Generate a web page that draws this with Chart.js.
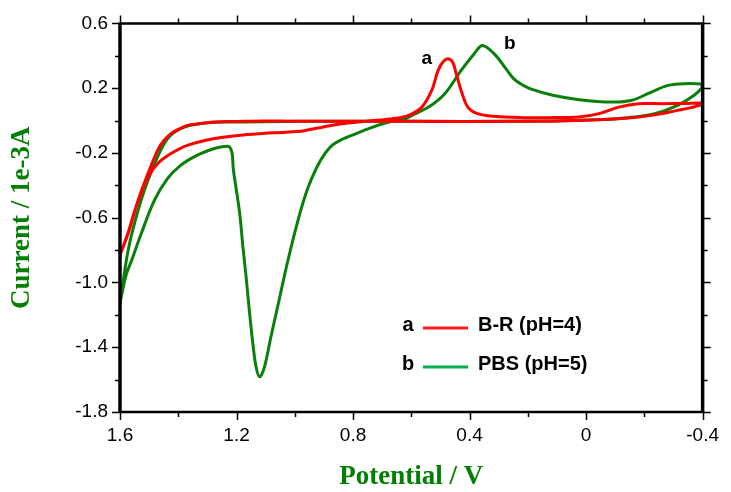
<!DOCTYPE html>
<html>
<head>
<meta charset="utf-8">
<script src="https://cdn.jsdelivr.net/npm/chart.js@4.4.1/dist/chart.umd.min.js"></script>
<style>
  html, body { margin: 0; padding: 0; background: #fff; }
</style>
</head>
<body>
<canvas id="myChart" width="731" height="492"></canvas>
<script>
// a: B-R (pH=4), closed loop, potential (V) and current (1e-3 A)
const redV = [1.600, 1.570, 1.549, 1.525, 1.504, 1.471, 1.425, 1.369, 1.279, 1.189, 1.110, 1.050, 0.990, 0.960,
    0.920, 0.880, 0.840, 0.790, 0.710, 0.654, 0.609, 0.564, 0.530, 0.508, 0.490, 0.474, 0.458, 0.446, 0.429, 0.406,
    0.373, 0.316, 0.215, 0.136, 0.024, -0.044, -0.112, -0.179, -0.258, -0.340, -0.400,
    -0.400, -0.360, -0.314, -0.224, -0.123, 0.024, 0.249, 0.600, 1.000, 1.110, 1.200, 1.279, 1.330,
    1.369, 1.400, 1.425, 1.450, 1.471, 1.504, 1.538, 1.572, 1.600];
const redI = [-0.830, -0.680, -0.554, -0.440, -0.349, -0.266, -0.204, -0.153, -0.112, -0.091, -0.080, -0.074, -0.068, -0.060,
    -0.046, -0.032, -0.020, -0.010, 0.003, 0.014, 0.032, 0.083, 0.186, 0.310, 0.365, 0.382, 0.360, 0.290, 0.186, 0.083,
    0.043, 0.026, 0.018, 0.018, 0.022, 0.043, 0.083, 0.104, 0.104, 0.106, 0.108,
    0.100, 0.080, 0.063, 0.032, 0.012, 0.001, -0.005, -0.005, -0.004, -0.003, -0.006, -0.009, -0.020,
    -0.030, -0.055, -0.081, -0.125, -0.184, -0.328, -0.493, -0.698, -0.830];

// b: PBS (pH=5)
const greenV = [1.600, 1.580, 1.560, 1.527, 1.482, 1.437, 1.392, 1.336, 1.279, 1.250, 1.230, 1.223, 1.215,
    1.211, 1.203, 1.189, 1.178, 1.166, 1.155, 1.144, 1.133, 1.121, 1.104, 1.082, 1.054, 1.026, 0.992,
    0.958, 0.924, 0.895, 0.870, 0.840, 0.800, 0.740, 0.677, 0.620, 0.598, 0.541, 0.485, 0.429, 0.384,
    0.356, 0.316, 0.271, 0.249, 0.226, 0.193, 0.114, 0.024, -0.089, -0.157, -0.224, -0.281, -0.337, -0.400,
    -0.400, -0.371, -0.314, -0.236, -0.145, -0.033, 0.136, 0.249, 0.600, 1.000, 1.223, 1.324, 1.392,
    1.437, 1.471, 1.504, 1.538, 1.572, 1.600];
const greenI = [-1.130, -0.960, -0.863, -0.698, -0.493, -0.359, -0.277, -0.215, -0.174, -0.162, -0.159, -0.165, -0.204,
    -0.300, -0.400, -0.575, -0.781, -0.986, -1.192, -1.377, -1.521, -1.583, -1.521, -1.336, -1.110, -0.883, -0.636,
    -0.431, -0.287, -0.200, -0.150, -0.118, -0.088, -0.045, -0.009, 0.012, 0.032, 0.083, 0.166, 0.310, 0.413,
    0.464, 0.413, 0.310, 0.259, 0.228, 0.197, 0.156, 0.129, 0.114, 0.125, 0.176, 0.217, 0.228, 0.223,
    0.207, 0.156, 0.094, 0.043, 0.018, 0.005, -0.003, -0.005, -0.005, -0.005, -0.009, -0.019, -0.050,
    -0.112, -0.225, -0.369, -0.554, -0.801, -1.130];

const xMajor = [1.6, 1.2, 0.8, 0.4, 0, -0.4];
const xLabels = ['1.6', '1.2', '0.8', '0.4', '0', '-0.4'];
const yMajor = [0.6, 0.2, -0.2, -0.6, -1.0, -1.4, -1.8];
const yLabels = ['0.6', '0.2', '-0.2', '-0.6', '-1.0', '-1.4', '-1.8'];

const seriesNames = ['B-R (pH=4)', 'PBS (pH=5)'];
const seriesTags = ['a', 'b'];
const tagV = [0.547, 0.262];
const tagI = [0.382, 0.475];

function toPoints(xs, ys) {
    return xs.map((v, i) => ({x: v, y: ys[i]}));
}

function labelFor(value, majors, labels) {
    const i = majors.findIndex(m => Math.abs(m - value) < 1e-6);
    return i >= 0 ? labels[i] : '';
}

const sans = "'Liberation Sans', Arial, sans-serif";
const serif = "'Liberation Serif', 'Times New Roman', serif";

const extras = {
    id: 'extras',
    afterDraw(chart) {
        const {ctx, chartArea: a, scales: {x, y}} = chart;
        ctx.save();
        ctx.strokeStyle = '#000';
        ctx.lineWidth = 1.5;
        ctx.beginPath();
        x.ticks.forEach(t => {
            const px = Math.round(x.getPixelForValue(t.value)) + 0.5;
            const len = t.label ? 8 : 5;
            ctx.moveTo(px, a.bottom); ctx.lineTo(px, a.bottom + len);
            ctx.moveTo(px, a.top); ctx.lineTo(px, a.top - len);
        });
        y.ticks.forEach(t => {
            const py = Math.round(y.getPixelForValue(t.value)) + 0.5;
            const len = t.label ? 8 : 5;
            ctx.moveTo(a.left, py); ctx.lineTo(a.left - len, py);
            ctx.moveTo(a.right, py); ctx.lineTo(a.right + len, py);
        });
        ctx.stroke();

        // frame
        ctx.lineWidth = 2.5;
        ctx.beginPath();
        ctx.moveTo(a.left, a.top); ctx.lineTo(a.right, a.top);
        ctx.moveTo(a.left, a.bottom); ctx.lineTo(a.right, a.bottom);
        ctx.stroke();
        ctx.lineWidth = 3.5;
        ctx.beginPath();
        ctx.moveTo(a.left, a.top - 1); ctx.lineTo(a.left, a.bottom + 1);
        ctx.moveTo(a.right, a.top - 1); ctx.lineTo(a.right, a.bottom + 1);
        ctx.stroke();

        // peak tags
        ctx.fillStyle = '#000';
        ctx.font = 'bold 19px ' + sans;
        ctx.textAlign = 'center';
        ctx.textBaseline = 'middle';
        seriesTags.forEach((tg, i) => {
            ctx.fillText(tg, x.getPixelForValue(tagV[i]), y.getPixelForValue(tagI[i]));
        });

        // legend
        const legendColors = ['#ff1a1a', '#00b050'];
        const rows = [325, 364];
        ctx.font = 'bold 20px ' + sans;
        seriesNames.forEach((name, i) => {
            ctx.textAlign = 'center';
            ctx.fillText(seriesTags[i], 408, rows[i]);
            ctx.strokeStyle = legendColors[i];
            ctx.lineWidth = 3;
            ctx.beginPath();
            ctx.moveTo(423, rows[i] + 3);
            ctx.lineTo(468, rows[i] + 3);
            ctx.stroke();
            ctx.textAlign = 'left';
            ctx.fillText(name, 478, rows[i]);
        });
        ctx.restore();
    }
};

const data = {
    datasets: [{
        label: seriesNames[0],
        data: toPoints(redV, redI),
        borderColor: '#ff0000',
        borderWidth: 3,
        showLine: true,
        pointRadius: 0,
        tension: 0.35
    },
    {
        label: seriesNames[1],
        data: toPoints(greenV, greenI),
        borderColor: '#0a800a',
        borderWidth: 3,
        showLine: true,
        pointRadius: 0,
        tension: 0.35
    }]
};

const config = {
    type: 'scatter',
    data: data,
    options: {
        responsive: false,
        animation: false,
        layout: {padding: {top: 23, right: 19, left: 0, bottom: 0}},
        plugins: {legend: {display: false}, tooltip: {enabled: false}},
        scales: {
            x: {
                type: 'linear',
                reverse: true,
                min: -0.4,
                max: 1.6,
                afterFit: s => { s.height = 80; },
                grid: {display: false, drawTicks: false},
                border: {display: false},
                ticks: {
                    stepSize: 0.2,
                    autoSkip: false,
                    maxRotation: 0,
                    padding: 12,
                    color: '#000',
                    font: {family: sans, size: 19},
                    callback: v => labelFor(v, xMajor, xLabels)
                },
                title: {
                    display: true,
                    text: 'Potential / V',
                    color: '#008000',
                    font: {family: serif, size: 27, weight: 'bold', lineHeight: 1},
                    padding: {top: 0, bottom: 1}
                }
            },
            y: {
                type: 'linear',
                min: -1.8,
                max: 0.6,
                afterFit: s => { s.width = 120; },
                grid: {display: false, drawTicks: false},
                border: {display: false},
                ticks: {
                    stepSize: 0.2,
                    autoSkip: false,
                    padding: 12,
                    color: '#000',
                    font: {family: sans, size: 19},
                    callback: v => labelFor(v, yMajor, yLabels)
                },
                title: {
                    display: true,
                    text: 'Current / 1e-3A',
                    color: '#008000',
                    font: {family: serif, size: 27, weight: 'bold', lineHeight: 1},
                    padding: {top: 9, bottom: 0}
                }
            }
        }
    },
    plugins: [extras]
};

const myChart = new Chart(document.getElementById('myChart'), config);
</script>
</body>
</html>
